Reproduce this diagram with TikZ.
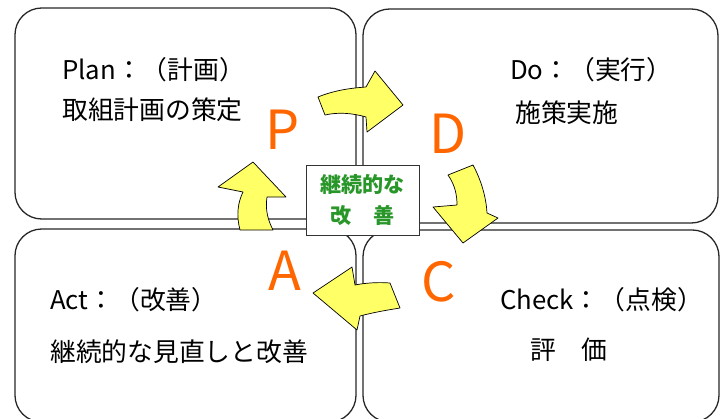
\documentclass[tikz,border=0pt]{standalone}
\usepackage{fontspec}
\setmainfont{Noto Sans CJK JP}
\definecolor{naranja}{RGB}{255,102,0}
\definecolor{amarillo}{RGB}{255,255,102}
\definecolor{verde}{RGB}{40,150,40}
\tikzset{
  caja/.style={draw=black!85, line width=1.1pt, rounded corners=8mm},
  flecha/.style={draw=black, fill=amarillo, line width=0.6pt, line join=round},
  letra/.style={text=naranja, font=\fontsize{46}{46}\selectfont, inner sep=0pt},
  texto/.style={anchor=west, font=\fontsize{22}{26}\selectfont, inner sep=0pt},
}
\begin{document}
\begin{tikzpicture}[x=0.03cm,y=-0.03cm]
\useasboundingbox (0,0) rectangle (726,419);
% Cuatro cuadros
\draw[caja] (15,8) rectangle (356,219);
\draw[caja] (363,9) rectangle (718,223);
\draw[caja] (15,229) rectangle (356,422);
\draw[caja] (363,230) rectangle (719,422);
% Textos
\node[texto] (plan) at (62,70) {Plan：（計画）};
\node[texto] (plan2) at (62,110) {取組計画の策定};
\node[texto] (do) at (510,70) {Do：（実行）};
\node[texto] (do2) at (515,113) {施策実施};
\node[texto] (check) at (500,300) {Check：（点検）};
\node[texto] (check2) at (530,350) {評　価};
\node[texto] (act) at (50,300) {Act：（改善）};
\node[texto] (act2) at (50,352) {継続的な見直しと改善};
% Flechas
\draw[flecha] (318,97) .. controls (335,90) and (352,88) .. (366,87) -- (375,71) -- (403,105)
  -- (367,132) -- (366,117) .. controls (352,113) and (338,112) .. (325,115) -- cycle;
\draw[flecha] (448,175) .. controls (455,185) and (457,195) .. (457,205) -- (433,207) -- (463,243)
  -- (498,218) -- (487,213) .. controls (486,195) and (480,178) .. (473,165) -- cycle;
\draw[flecha] (390,283) .. controls (378,282) and (365,283) .. (355,285) -- (352,267) -- (313,293)
  -- (357,330) -- (360,316) .. controls (375,312) and (388,310) .. (400,308) -- cycle;
\draw[flecha] (240,230) .. controls (236,215) and (238,202) .. (243,192) -- (218,187) -- (253,162)
  -- (286,197) -- (267,197) .. controls (265,210) and (268,220) .. (273,230) -- cycle;
% Letras PDCA
\node[letra] (P) at (283,130) {P};
\node[letra] (D) at (448,134) {D};
\node[letra] (C) at (439,282) {C};
\node[letra] (A) at (285,271) {A};
% Cuadro central
\node[draw=black!80, fill=white, line width=0.8pt, minimum width=3.39cm, minimum height=2.1cm,
  align=center, text=verde, font=\fontsize{18}{26}\selectfont\bfseries] (centro) at (362.5,200)
  {継続的な\\改　善};
\end{tikzpicture}
\end{document}
